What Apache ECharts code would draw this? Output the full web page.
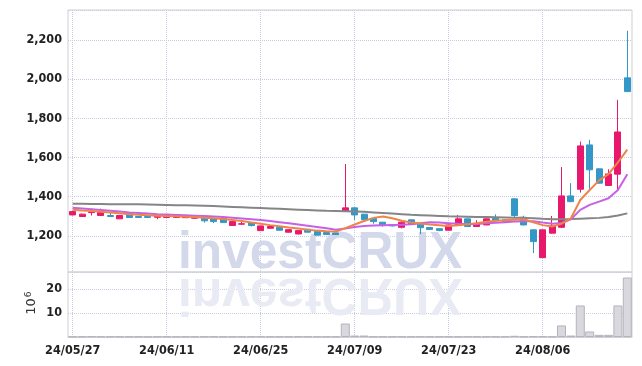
<!DOCTYPE html>
<html>
<head>
<meta charset="utf-8">
<script src="https://cdn.jsdelivr.net/npm/echarts@6/dist/echarts.min.js"></script>
<style>
html,body{margin:0;padding:0;background:#fff;}
#c{width:642px;height:366px;}
</style>
</head>
<body>
<div id="c"></div>
<script>
const dates = ['24/05/27','24/05/28','24/05/29','24/05/30','24/05/31','24/06/03','24/06/04','24/06/05','24/06/07','24/06/10',
'24/06/11','24/06/12','24/06/13','24/06/14','24/06/17','24/06/18','24/06/19','24/06/20','24/06/21','24/06/24',
'24/06/25','24/06/26','24/06/27','24/06/28','24/07/01','24/07/02','24/07/03','24/07/04','24/07/05','24/07/08',
'24/07/09','24/07/10','24/07/11','24/07/12','24/07/15','24/07/16','24/07/17','24/07/18','24/07/19','24/07/22',
'24/07/23','24/07/24','24/07/25','24/07/26','24/07/29','24/07/30','24/07/31','24/08/01','24/08/02','24/08/05',
'24/08/06','24/08/07','24/08/08','24/08/09','24/08/12','24/08/13','24/08/14','24/08/16','24/08/19','24/08/20'];

// [open, close, low, high]
const ohlc = [
[1307,1324,1305,1328],[1299,1311,1297,1314],[1319,1322,1304,1339],[1304,1319,1302,1339],[1304,1299,1297,1321],
[1287,1304,1286,1306],[1314,1294,1292,1315],[1299,1294,1292,1300],[1299,1294,1292,1300],[1295,1302,1285,1303],
[1294,1309,1293,1310],[1294,1309,1293,1310],[1293,1300,1292,1302],[1290,1297,1287,1298],[1290,1277,1268,1291],
[1290,1273,1265,1291],[1290,1268,1267,1291],[1253,1273,1252,1274],[1260,1262,1256,1273],[1268,1253,1248,1269],
[1227,1251,1226,1252],[1239,1248,1238,1256],[1244,1229,1228,1245],[1219,1232,1218,1233],[1210,1227,1208,1228],
[1234,1219,1218,1235],[1224,1204,1203,1225],[1217,1207,1205,1218],[1215,1207,1205,1216],[1327,1343,1325,1567],
[1343,1307,1282,1345],[1311,1282,1280,1312],[1288,1273,1262,1289],[1270,1257,1247,1271],[1257,1251,1249,1258],
[1244,1270,1238,1278],[1282,1260,1258,1283],[1260,1242,1209,1261],[1243,1233,1231,1244],[1237,1228,1224,1238],
[1229,1256,1228,1257],[1253,1287,1252,1307],[1287,1248,1246,1288],[1248,1260,1247,1280],[1256,1287,1255,1288],
[1290,1277,1275,1310],[1282,1273,1272,1283],[1389,1304,1290,1390],[1295,1256,1254,1303],[1231,1171,1112,1232],
[1089,1231,1088,1232],[1214,1251,1212,1302],[1244,1404,1240,1551],[1404,1375,1372,1469],[1438,1659,1421,1681],
[1664,1537,1440,1690],[1542,1469,1466,1544],[1457,1516,1455,1540],[1515,1730,1430,1894],[2006,1936,1934,2246]
];

const ma5 = [1334,1330,1327,1323,1319,1315,1311,1308,1305,1303,
1301,1300,1298,1296,1293,1290,1286,1281,1276,1268,
1262,1255,1249,1243,1238,1232,1227,1224,1222,1240,
1258,1276,1292,1299,1290,1277,1268,1263,1258,1255,
1251,1254,1260,1265,1272,1277,1280,1283,1285,1270,
1255,1248,1262,1290,1383,1434,1483,1515,1575,1640];

const ma10 = [1343,1340,1336,1332,1328,1324,1320,1317,1314,1311,
1309,1307,1305,1303,1301,1299,1296,1293,1289,1285,
1281,1276,1270,1264,1258,1252,1246,1239,1232,1238,
1245,1250,1253,1255,1256,1257,1260,1265,1270,1268,
1265,1262,1260,1261,1264,1267,1270,1273,1275,1275,
1268,1262,1266,1285,1333,1358,1375,1392,1434,1515];

const ma60 = [1364,1364,1363,1363,1362,1362,1361,1361,1360,1359,
1358,1357,1356,1355,1354,1352,1350,1348,1346,1344,
1342,1340,1338,1336,1334,1332,1330,1328,1327,1326,
1325,1323,1320,1317,1314,1311,1308,1306,1304,1302,
1300,1299,1298,1297,1296,1295,1294,1293,1292,1290,
1287,1285,1285,1286,1288,1290,1292,1296,1304,1315];

const volume = [0.2,0.2,0.3,0.2,0.2,0.2,0.2,0.2,0.1,0.2,
0.2,0.2,0.2,0.2,0.2,0.2,0.2,0.2,0.2,0.2,
0.2,0.2,0.2,0.2,0.2,0.2,0.2,0.2,0.2,5.6,
0.6,0.6,0.2,0.2,0.2,0.2,0.2,0.2,0.2,0.2,
0.2,0.2,0.2,0.2,0.2,0.2,0.2,0.5,0.2,0.3,
0.3,0.2,4.8,0.6,13.1,2.3,0.9,0.9,13.1,24.7];

const priceTicks = [1200,1400,1600,1800,2000,2200];

const UP = '#e8196c', DOWN = '#3398c8';
const labelFont = "'DejaVu Sans Condensed','Liberation Sans',sans-serif";
const gridLine = {show:true, lineStyle:{color:'#c8cce0', type:'dotted', width:1}};

const chart = echarts.init(document.getElementById('c'), null, {renderer:'canvas'});
chart.setOption({
  animation:false,
  backgroundColor:'#fff',
  grid:[
    {left:68, right:10, top:10, height:262, show:true, borderColor:'#cfcfd6', borderWidth:1, backgroundColor:'transparent'},
    {left:68, right:10, top:272, height:65, show:true, borderColor:'#cfcfd6', borderWidth:1, backgroundColor:'transparent'}
  ],
  graphic:[
    {type:'text', x:178, y:254, scaleX:0.955, z:1, silent:true,
     style:{text:'investCRUX', font:"bold 52px 'Liberation Sans', Arial, sans-serif", fill:'#d3d9ea',
            align:'left', verticalAlign:'middle', textAlign:'left', textVerticalAlign:'middle'}},
    {type:'text', x:178, y:293, scaleX:0.955, scaleY:-1, z:1, silent:true,
     style:{text:'investCRUX', font:"bold 52px 'Liberation Sans', Arial, sans-serif", fill:'#e9ebf4',
            align:'left', verticalAlign:'middle', textAlign:'left', textVerticalAlign:'middle'}},
    {type:'text', x:32, y:306.5, rotation:Math.PI/2, z:5, silent:true,
     style:{text:'10', font:"13px 'DejaVu Sans', sans-serif", fill:'#333',
            align:'center', verticalAlign:'middle', textAlign:'center', textVerticalAlign:'middle'}},
    {type:'text', x:28.5, y:294.5, rotation:Math.PI/2, z:5, silent:true,
     style:{text:'6', font:"9px 'DejaVu Sans', sans-serif", fill:'#333',
            align:'center', verticalAlign:'middle', textAlign:'center', textVerticalAlign:'middle'}}
  ],
  xAxis:[
    {type:'category', gridIndex:0, data:dates, boundaryGap:true,
     axisLine:{show:false}, axisTick:{show:false}, axisLabel:{show:false},
     splitLine:{show:true, interval:9, alignWithLabel:true, lineStyle:{color:'#c8cce0', type:'dotted'}}},
    {type:'category', gridIndex:1, data:dates, boundaryGap:true,
     axisLine:{show:true, lineStyle:{color:'#cfcfd6'}}, axisTick:{show:false},
     axisLabel:{show:true, interval:9, margin:7, color:'#222', fontSize:12.5, fontWeight:'bold', fontFamily:labelFont},
     splitLine:{show:true, interval:9, alignWithLabel:true, lineStyle:{color:'#c8cce0', type:'dotted'}}}
  ],
  yAxis:[
    {type:'value', gridIndex:0, min:1016, max:2352, splitNumber:6,
     axisLine:{show:false}, axisTick:{show:false},
     axisLabel:{margin:6, padding:[3,0,0,0], color:'#222', fontSize:12.5, fontWeight:'bold', fontFamily:labelFont,
                formatter:v => priceTicks.indexOf(v) >= 0 ? v.toLocaleString('en-US') : ''},
     splitLine:gridLine},
    {type:'value', gridIndex:1, min:0, max:27, interval:10,
     axisLine:{show:false}, axisTick:{show:false},
     axisLabel:{margin:6, padding:[1,0,0,0], color:'#222', fontSize:12.5, fontWeight:'bold', fontFamily:labelFont,
                formatter:v => (v === 10 || v === 20) ? String(v) : ''},
     splitLine:gridLine}
  ],
  series:[
    {type:'candlestick', name:'price', xAxisIndex:0, yAxisIndex:0, data:ohlc, barWidth:'68%', z:2,
     itemStyle:{color:UP, color0:DOWN, borderColor:UP, borderColor0:DOWN, borderWidth:1}},
    {type:'line', name:'MA60', xAxisIndex:0, yAxisIndex:0, data:ma60, symbol:'none', z:3,
     lineStyle:{color:'#858585', width:2}},
    {type:'line', name:'MA10', xAxisIndex:0, yAxisIndex:0, data:ma10, symbol:'none', z:3,
     lineStyle:{color:'#c661e6', width:2}},
    {type:'line', name:'MA5', xAxisIndex:0, yAxisIndex:0, data:ma5, symbol:'none', z:4,
     lineStyle:{color:'#ee8448', width:2}},
    {type:'bar', name:'volume', xAxisIndex:1, yAxisIndex:1, data:volume, barCategoryGap:'4%', z:2,
     itemStyle:{color:'#d8d8de', borderColor:'#b4b4bc', borderWidth:1}}
  ]
});
</script>
</body>
</html>
